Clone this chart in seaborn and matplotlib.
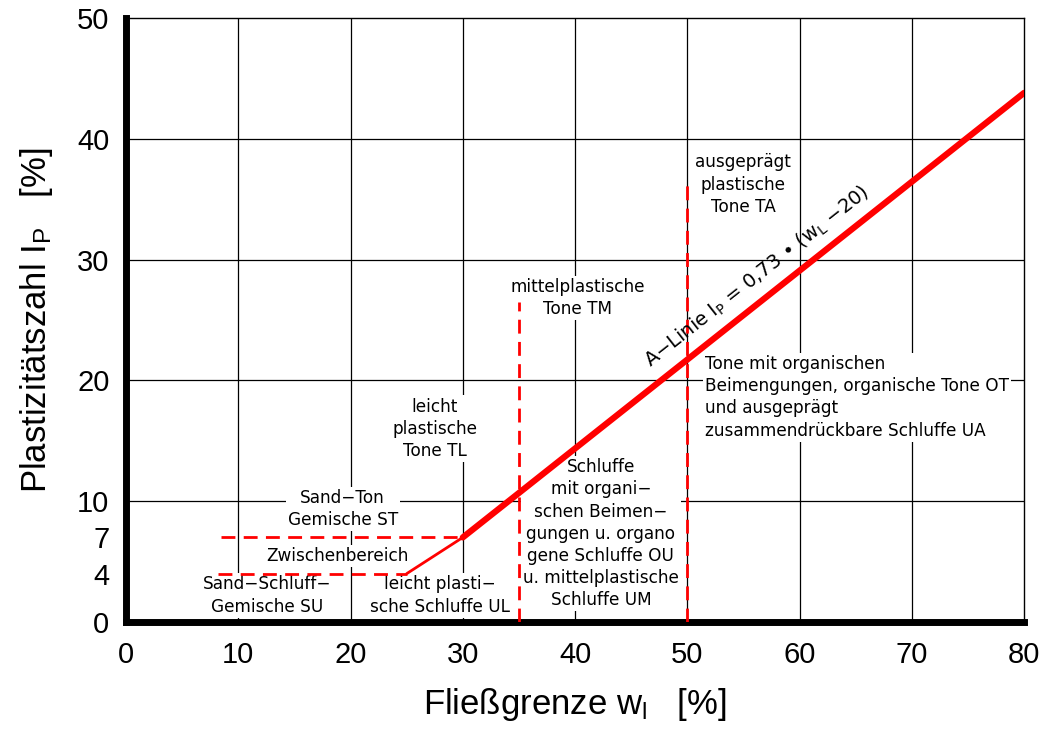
import matplotlib
matplotlib.use('Agg')
import matplotlib.pyplot as plt
import seaborn as sns

# Plastizitätsdiagramm nach DIN 18196
sns.set_style('white')
plt.rcParams['font.family'] = ['Liberation Sans', 'DejaVu Sans']
plt.rcParams['mathtext.default'] = 'regular'
plt.rcParams['text.color'] = 'black'
plt.rcParams['axes.labelcolor'] = 'black'
plt.rcParams['xtick.labelcolor'] = 'black'
plt.rcParams['ytick.labelcolor'] = 'black'

# A-Linie (dick ab wL=30, duenn zwischen 25 und 30)
a_x = [30, 80]
a_y = [7, 43.8]
a_thin_x = [25, 30]
a_thin_y = [4, 7]

# gestrichelte Grenzen
h7_x = [8.5, 30]
h7_y = [7, 7]
h4_x = [8.2, 25]
h4_y = [4, 4]
v35_x = [35, 35]
v35_y = [0, 26.5]
v50_x = [50, 50]
v50_y = [0, 36.5]

x_ticks = [0, 10, 20, 30, 40, 50, 60, 70, 80]
y_ticks = [0, 4, 7, 10, 20, 30, 40, 50]
grid_x = [10, 20, 30, 40, 50, 60, 70]
grid_y = [10, 20, 30, 40]

fig = plt.figure(figsize=(10.46, 7.34), dpi=100)
ax = fig.add_axes([0.1205, 0.1526, 0.8585, 0.8229])

for gx in grid_x:
    ax.axvline(gx, color='black', lw=0.9, zorder=1)
for gy in grid_y:
    ax.axhline(gy, color='black', lw=0.9, zorder=1)

red = '#ff0000'
sns.lineplot(x=a_x, y=a_y, color=red, lw=4.5, ax=ax, zorder=4,
             estimator=None, sort=False)
sns.lineplot(x=a_thin_x, y=a_thin_y, color=red, lw=2, ax=ax, zorder=4,
             estimator=None, sort=False)
for xs, ys in [(h7_x, h7_y), (h4_x, h4_y), (v35_x, v35_y), (v50_x, v50_y)]:
    sns.lineplot(x=xs, y=ys, color=red, lw=2, ax=ax, zorder=4,
                 estimator=None, sort=False, linestyle=(0, (5, 3)))

# Beschriftungen
box = dict(facecolor='white', edgecolor='none', pad=1.5)
tf = dict(fontsize=12.2, family='DejaVu Sans', color='black',
          bbox=box, zorder=2, linespacing=1.3)
ax.text(19.3, 9.35, 'Sand−Ton\nGemische ST', ha='center', va='center', **tf)
ax.text(18.8, 5.5, 'Zwischenbereich', ha='center', va='center', **tf)
ax.text(12.6, 2.2, 'Sand−Schluff−\nGemische SU', ha='center', va='center', **tf)
ax.text(28.0, 2.2, 'leicht plasti−\nsche Schluffe UL', ha='center', va='center', **tf)
ax.text(27.5, 16.0, 'leicht\nplastische\nTone TL', ha='center', va='center', **tf)
ax.text(40.2, 26.8, 'mittelplastische\nTone TM', ha='center', va='center', **tf)
ax.text(42.3, 7.3, 'Schluffe\nmit organi−\nschen Beimen−\ngungen u. organo\n'
        'gene Schluffe OU\nu. mittelplastische\nSchluffe UM',
        ha='center', va='center', **tf)
ax.text(55.0, 36.2, 'ausgeprägt\nplastische\nTone TA', ha='center', va='center', **tf)
ax.text(51.6, 18.6, 'Tone mit organischen\nBeimengungen, organische Tone OT\n'
        'und ausgeprägt\nzusammendrückbare Schluffe UA',
        ha='left', va='center', **tf)
ax.text(56.2, 28.6, 'A−Linie I$_P$ = 0,73 • (w$_L$ −20)', ha='center', va='center',
        rotation=38.2, rotation_mode='anchor', fontsize=14, family='DejaVu Sans',
        zorder=5)

ax.set_xlim(0, 80)
ax.set_ylim(0, 50)
ax.set_xticks(x_ticks)
ax.set_yticks(y_ticks)
ax.tick_params(axis='both', labelsize=21, length=8, width=1, color='#555555',
               direction='out', pad=4)
ax.tick_params(axis='x', pad=6)

for side in ['left', 'bottom']:
    ax.spines[side].set_linewidth(5)
    ax.spines[side].set_color('black')
for side in ['top', 'right']:
    ax.spines[side].set_linewidth(1)
    ax.spines[side].set_color('black')

ax.set_xlabel('Fließgrenze w$_l$   [%]', fontsize=25, labelpad=12)
ax.set_ylabel('Plastizitätszahl I$_P$   [%]', fontsize=25, labelpad=16)

fig.savefig('out.png', dpi=100)
